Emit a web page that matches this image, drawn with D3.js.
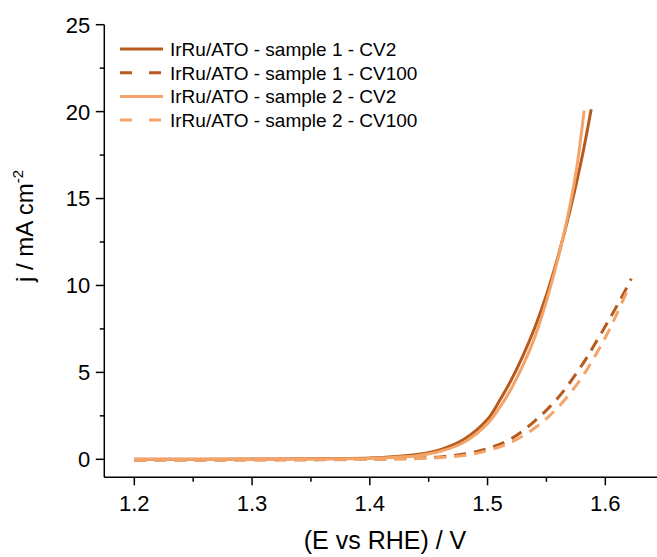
<!DOCTYPE html>
<html>
<head>
<meta charset="utf-8">
<script src="https://cdn.jsdelivr.net/npm/d3@7"></script>
<style>
  html, body { margin: 0; padding: 0; background: #fff; }
  svg { display: block; font-family: "Liberation Sans", Arial, sans-serif; }
</style>
</head>
<body>
<svg id="chart" width="657" height="557"></svg>
<script>
// Polarisation curves (j vs E) for two IrRu/ATO samples, CV2 and CV100
const seriesNames = [
  "IrRu/ATO - sample 1 - CV2",
  "IrRu/ATO - sample 1 - CV100",
  "IrRu/ATO - sample 2 - CV2",
  "IrRu/ATO - sample 2 - CV100"
];
const seriesColors = ["#B65A1E", "#B65A1E", "#F4A468", "#F4A468"];
const seriesDashed = [false, true, false, true];

const s1cv2E = [1.20, 1.25, 1.30, 1.35, 1.38, 1.40, 1.42, 1.44, 1.46, 1.48, 1.50, 1.51, 1.52, 1.53, 1.54, 1.55, 1.56, 1.57, 1.58, 1.588];
const s1cv2J = [0.01, 0.01, 0.02, 0.03, 0.05, 0.08, 0.15, 0.28, 0.56, 1.15, 2.3, 3.35, 4.55, 5.95, 7.55, 9.45, 11.7, 14.3, 17.3, 20.14];

const s1cv100E = [1.20, 1.25, 1.30, 1.35, 1.40, 1.42, 1.44, 1.46, 1.48, 1.50, 1.52, 1.54, 1.56, 1.58, 1.59, 1.60, 1.61, 1.62, 1.622];
const s1cv100J = [-0.05, -0.04, -0.03, -0.02, 0.0, 0.03, 0.07, 0.14, 0.30, 0.62, 1.18, 2.2, 3.55, 5.4, 6.5, 7.65, 8.85, 10.1, 10.39];

const s2cv2E = [1.20, 1.25, 1.30, 1.35, 1.38, 1.40, 1.42, 1.44, 1.46, 1.48, 1.50, 1.51, 1.52, 1.53, 1.54, 1.55, 1.56, 1.57, 1.576, 1.582];
const s2cv2J = [0.00, 0.00, 0.01, 0.02, 0.03, 0.05, 0.11, 0.21, 0.46, 0.98, 2.05, 2.95, 4.05, 5.4, 7.0, 9.1, 11.6, 14.6, 16.9, 20.06];

const s2cv100E = [1.20, 1.25, 1.30, 1.35, 1.40, 1.42, 1.44, 1.46, 1.48, 1.50, 1.52, 1.54, 1.56, 1.58, 1.59, 1.60, 1.61, 1.6185];
const s2cv100J = [-0.06, -0.05, -0.04, -0.03, -0.01, 0.01, 0.04, 0.10, 0.22, 0.50, 0.98, 1.80, 3.0, 4.7, 5.8, 7.0, 8.4, 9.67];

const xTickValues = [1.2, 1.3, 1.4, 1.5, 1.6];
const xMinorTicks = [1.25, 1.35, 1.45, 1.55];
const yTickValues = [0, 5, 10, 15, 20, 25];
const yMinorTicks = [2.5, 7.5, 12.5, 17.5, 22.5];

const xTitle = "(E vs RHE) / V";

const seriesE = [s1cv2E, s1cv100E, s2cv2E, s2cv100E];
const seriesJ = [s1cv2J, s1cv100J, s2cv2J, s2cv100J];
const series = seriesNames.map((name, i) => ({
  name, color: seriesColors[i], dashed: seriesDashed[i],
  points: seriesE[i].map((e, k) => [e, seriesJ[i][k]])
}));

const svg = d3.select("#chart");

const x = d3.scaleLinear().domain([1.1745, 1.6439]).range([104.3, 657]);
const y = d3.scaleLinear().domain([-1.035, 25]).range([477.3, 24.7]);

const axisColor = "#000";

// x axis
const gx = svg.append("g").attr("transform", `translate(0,${y.range()[0]})`);
gx.append("line").attr("x1", x.range()[0]).attr("x2", x.range()[1])
  .attr("stroke", axisColor).attr("stroke-width", 1.5);
gx.selectAll(".xmaj").data(xTickValues).join("line")
  .attr("x1", d => x(d)).attr("x2", d => x(d)).attr("y1", 0).attr("y2", 8)
  .attr("stroke", axisColor).attr("stroke-width", 1.5);
gx.selectAll(".xmin").data(xMinorTicks).join("line")
  .attr("x1", d => x(d)).attr("x2", d => x(d)).attr("y1", 0).attr("y2", 4.5)
  .attr("stroke", axisColor).attr("stroke-width", 1.5);
gx.selectAll("text").data(xTickValues).join("text")
  .attr("x", d => x(d)).attr("y", 34)
  .attr("text-anchor", "middle").attr("font-size", 22).attr("fill", "#000")
  .text(d => d3.format(".1f")(d));

// y axis
const gy = svg.append("g").attr("transform", `translate(${x.range()[0]},0)`);
gy.append("line").attr("y1", y.range()[0]).attr("y2", y.range()[1])
  .attr("stroke", axisColor).attr("stroke-width", 1.5);
gy.selectAll(".ymaj").data(yTickValues).join("line")
  .attr("y1", d => y(d)).attr("y2", d => y(d)).attr("x1", 0).attr("x2", -8.5)
  .attr("stroke", axisColor).attr("stroke-width", 1.5);
gy.selectAll(".ymin").data(yMinorTicks).join("line")
  .attr("y1", d => y(d)).attr("y2", d => y(d)).attr("x1", 0).attr("x2", -4.5)
  .attr("stroke", axisColor).attr("stroke-width", 1.5);
gy.selectAll("text").data(yTickValues).join("text")
  .attr("x", -14).attr("y", d => y(d)).attr("dy", "0.36em")
  .attr("text-anchor", "end").attr("font-size", 22).attr("fill", "#000")
  .text(d => d);

// axis titles
svg.append("text").attr("x", 385).attr("y", 549)
  .attr("text-anchor", "middle").attr("font-size", 25).attr("fill", "#000")
  .text(xTitle);

const yt = svg.append("text")
  .attr("transform", "translate(33,226) rotate(-90)")
  .attr("text-anchor", "middle").attr("font-size", 24).attr("fill", "#000");
yt.append("tspan").text("j / mA cm");
yt.append("tspan").attr("font-size", 15).attr("dy", -10).text("-2");

// curves
const line = d3.line().x(d => x(d[0])).y(d => y(d[1])).curve(d3.curveCatmullRom.alpha(0.5));
svg.append("g").selectAll("path").data(series).join("path")
  .attr("d", d => line(d.points))
  .attr("fill", "none")
  .attr("stroke", d => d.color)
  .attr("stroke-width", 3)
  .attr("stroke-dasharray", d => d.dashed ? "12,8" : null);

// legend
const legend = svg.append("g");
const rowY = i => 49 + i * 23.7;
legend.selectAll("line").data(series).join("line")
  .attr("x1", 120).attr("x2", 163)
  .attr("y1", (d, i) => rowY(i)).attr("y2", (d, i) => rowY(i))
  .attr("stroke", d => d.color).attr("stroke-width", 3)
  .attr("stroke-dasharray", d => d.dashed ? "12,17" : null);
legend.selectAll("text").data(series).join("text")
  .attr("x", 170).attr("y", (d, i) => rowY(i)).attr("dy", "0.36em")
  .attr("font-size", 19).attr("fill", "#000")
  .text(d => d.name);
</script>
</body>
</html>
